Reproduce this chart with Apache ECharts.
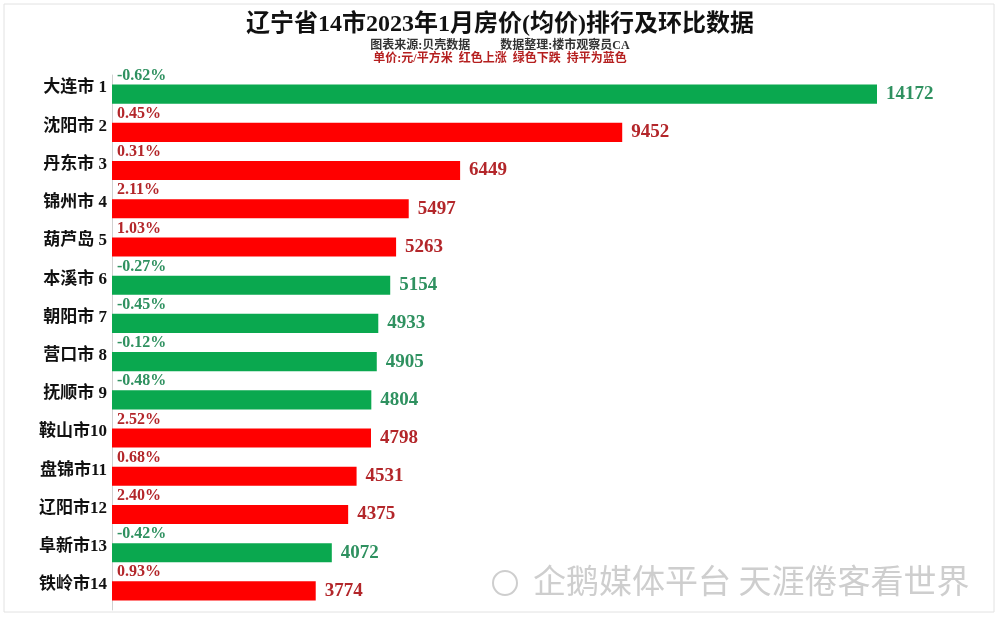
<!DOCTYPE html>
<html>
<head>
<meta charset="utf-8">
<script src="https://cdn.jsdelivr.net/npm/echarts@6/dist/echarts.min.js"></script>
<style>
	html, body { margin: 0; padding: 0; background: #fff; }
	#chart { width: 1000px; height: 619px; }
</style>
</head>
<body>
<div id="chart"></div>
<script>
const cities = ["大连市 1", "沈阳市 2", "丹东市 3", "锦州市 4", "葫芦岛 5", "本溪市 6", "朝阳市 7",
	"营口市 8", "抚顺市 9", "鞍山市10", "盘锦市11", "辽阳市12", "阜新市13", "铁岭市14"];
const prices = [14172, 9452, 6449, 5497, 5263, 5154, 4933, 4905, 4804, 4798, 4531, 4375, 4072, 3774];
const changes = [-0.62, 0.45, 0.31, 2.11, 1.03, -0.27, -0.45, -0.12, -0.48, 2.52, 0.68, 2.40, -0.42, 0.93];

const serif = '"Liberation Serif", "Noto Sans CJK SC", serif';
const upBar = "#ff0000";
const downBar = "#0aa84f";
const flatBar = "#1f5fd6";
const upText = "#b3262a";
const downText = "#2f9160";
const flatText = "#1f4fb0";

function barColor(c) {
	return c > 0 ? upBar : c < 0 ? downBar : flatBar;
}
function textColor(c) {
	return c > 0 ? upText : c < 0 ? downText : flatText;
}

const mainData = prices.map((v, i) => ({
	value: v,
	itemStyle: { color: barColor(changes[i]) },
	label: { color: textColor(changes[i]) },
}));

const pctData = prices.map((v, i) => ({
	value: v,
	label: {
		color: textColor(changes[i]),
		formatter: changes[i].toFixed(2) + "%",
	},
}));

let chart = echarts.init(document.getElementById("chart"));

let option = {
	animation: false,
	backgroundColor: "#fff",
	grid: { left: 112, right: 123, top: 75, bottom: 9 },
	xAxis: {
		type: "value",
		min: 0,
		max: 14172,
		show: false,
	},
	yAxis: {
		type: "category",
		inverse: true,
		data: cities,
		axisLine: { show: true, lineStyle: { color: "#d0d0d0" } },
		axisTick: { show: false },
		axisLabel: {
			color: "#111",
			fontFamily: serif,
			fontWeight: "bold",
			fontSize: 17,
			margin: 5,
			verticalAlign: "bottom",
			lineHeight: 12,
		},
	},
	series: [
		{
			type: "bar",
			data: mainData,
			barWidth: "50%",
			barCategoryGap: "50%",
			label: {
				show: true,
				position: "right",
				distance: 9,
				fontFamily: serif,
				fontWeight: "bold",
				fontSize: 19,
			},
		},
		{
			type: "bar",
			data: pctData,
			barWidth: "50%",
			barGap: "-100%",
			itemStyle: { color: "rgba(0,0,0,0)" },
			silent: true,
			label: {
				show: true,
				position: [5, -17],
				fontFamily: serif,
				fontWeight: "bold",
				fontSize: 16,
			},
		},
	],
	graphic: [
		{
			type: "rect",
			shape: { x: 4, y: 4, width: 990, height: 608 },
			style: { fill: "none", stroke: "#e2e2e2", lineWidth: 1 },
			silent: true,
		},
		{
			type: "text",
			left: "center",
			top: 13,
			style: {
				text: "辽宁省14市2023年1月房价(均价)排行及环比数据",
				fontFamily: serif,
				fontWeight: "bold",
				fontSize: 24,
				fill: "#111",
			},
		},
		{
			type: "text",
			left: "center",
			top: 40,
			style: {
				text: "图表来源:贝壳数据          数据整理:楼市观察员CA",
				fontFamily: serif,
				fontWeight: "bold",
				fontSize: 12,
				fill: "#333",
			},
		},
		{
			type: "text",
			left: "center",
			top: 53,
			style: {
				text: "单价:元/平方米  红色上涨  绿色下跌  持平为蓝色",
				fontFamily: serif,
				fontWeight: "bold",
				fontSize: 12,
				fill: "#b51f1f",
			},
		},
		{
			type: "text",
			left: 533,
			top: 564,
			style: {
				text: "企鹅媒体平台 天涯倦客看世界",
				fontFamily: '"Noto Sans CJK SC", sans-serif',
				fontSize: 33,
				fill: "rgba(190,190,190,0.75)",
			},
			silent: true,
		},
		{
			type: "circle",
			shape: { cx: 505, cy: 583, r: 12 },
			style: { fill: "none", stroke: "rgba(190,190,190,0.75)", lineWidth: 2 },
			silent: true,
		},
	],
};

chart.setOption(option);
</script>
</body>
</html>
